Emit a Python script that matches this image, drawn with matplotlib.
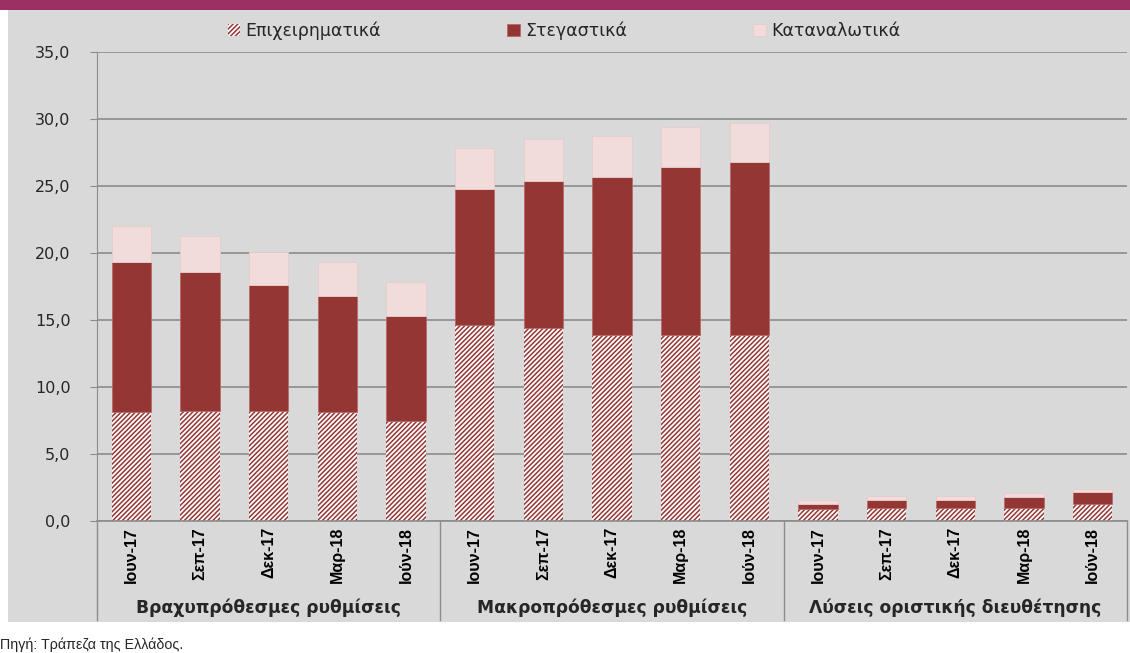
import matplotlib.pyplot as plt
from matplotlib.patches import Rectangle
import matplotlib.transforms as mtransforms

# Data (δισ. ευρώ)
periods = ["Ιουν-17", "Σεπ-17", "Δεκ-17", "Μαρ-18", "Ιούν-18"]
groups = ["Βραχυπρόθεσμες ρυθμίσεις", "Μακροπρόθεσμες ρυθμίσεις", "Λύσεις οριστικής διευθέτησης"]
epix = [8.1, 8.2, 8.2, 8.1, 7.5, 14.6, 14.4, 13.9, 13.9, 13.9, 0.9, 1.0, 1.0, 1.0, 1.3]
steg = [11.2, 10.4, 9.4, 8.7, 7.8, 10.2, 11.0, 11.8, 12.5, 12.9, 0.4, 0.6, 0.6, 0.8, 0.9]
katan = [2.7, 2.7, 2.5, 2.55, 2.5, 3.0, 3.1, 3.05, 3.0, 2.9, 0.3, 0.3, 0.25, 0.3, 0.2]

labels = periods * len(groups)
x = list(range(len(labels)))

dark = "#943634"
light = "#f2dcdb"
bg = "#d9d9d9"
txt = "#262626"

plt.rcParams["hatch.linewidth"] = 1.1
fig = plt.figure(figsize=(11.3, 6.53), dpi=100)

# background panels
fig.patches.append(Rectangle((0, 1 - 10 / 653), 1, 10 / 653, transform=fig.transFigure,
                             facecolor="#9b3162", edgecolor="none", zorder=-10))
fig.patches.append(Rectangle((8 / 1130, 1 - 622 / 653), 1, 612 / 653, transform=fig.transFigure,
                             facecolor=bg, edgecolor="none", zorder=-10))

ax = fig.add_axes([97 / 1130, 1 - 521 / 653, 1030 / 1130, 469 / 653])
ax.patch.set_alpha(0)

w = 0.57
ax.bar(x, epix, w, color="white", edgecolor=dark, hatch="///////", linewidth=0,
       label="Επιχειρηματικά", zorder=2)
ax.bar(x, steg, w, bottom=epix, color=dark, edgecolor="#b86a68", linewidth=0.6,
       label="Στεγαστικά", zorder=2)
bottom2 = [a + b for a, b in zip(epix, steg)]
ax.bar(x, katan, w, bottom=bottom2, color=light, edgecolor="#e8cccc", linewidth=0.6,
       label="Καταναλωτικά", zorder=2)

ax.set_xlim(-0.5, len(labels) - 0.5)
ax.set_ylim(0, 35)
ax.set_yticks([0, 5, 10, 15, 20, 25, 30, 35])
ax.set_yticklabels([f"{v:.1f}".replace(".", ",") for v in range(0, 36, 5)],
                   fontsize=11.5, family="DejaVu Sans", color=txt)
ax.yaxis.grid(True, color="#8c8c8c", linewidth=1.2, zorder=1)
ax.set_axisbelow(True)
for s in ["top", "right"]:
    ax.spines[s].set_visible(False)
ax.spines["left"].set_color("#8c8c8c")
ax.spines["bottom"].set_color("#8c8c8c")
ax.spines["bottom"].set_linewidth(1.2)
ax.tick_params(axis="y", length=5, color="#8c8c8c", pad=14)
ax.tick_params(axis="x", length=0, labelbottom=False)

# category labels and group labels
trans = mtransforms.blended_transform_factory(ax.transData, fig.transFigure)
for xi, lab in zip(x, labels):
    ax.text(xi, 1 - 527 / 653, lab, transform=trans, rotation=90, ha="center", va="top",
            fontsize=11.5, fontweight="bold", family="Liberation Sans", color="black")
for gi, g in enumerate(groups):
    ax.text(gi * 5 + 2, 1 - 608 / 653, g, transform=trans, ha="center", va="center",
            fontsize=12.3, fontweight="bold", family="DejaVu Sans", color=txt)

# group separators under the axis
for sx in [-0.5, 4.5, 9.5, 14.5]:
    ax.plot([sx, sx], [1 - 521 / 653, 1 - 620 / 653], transform=trans, color="#8c8c8c",
            linewidth=1, clip_on=False)

leg = fig.legend(loc="center", bbox_to_anchor=(0.499, 1 - 31 / 653), ncol=3, frameon=False,
                 fontsize=12.5, handlelength=0.7, handleheight=0.7, columnspacing=7.3,
                 handletextpad=0.3)
for t in leg.get_texts():
    t.set_color(txt)

fig.text(0.0, 1 - 645 / 653, "Πηγή: Τράπεζα της Ελλάδος.", fontsize=10.3, va="center",
         family="Liberation Sans", color=txt)

fig.savefig("out.png", dpi=100)
